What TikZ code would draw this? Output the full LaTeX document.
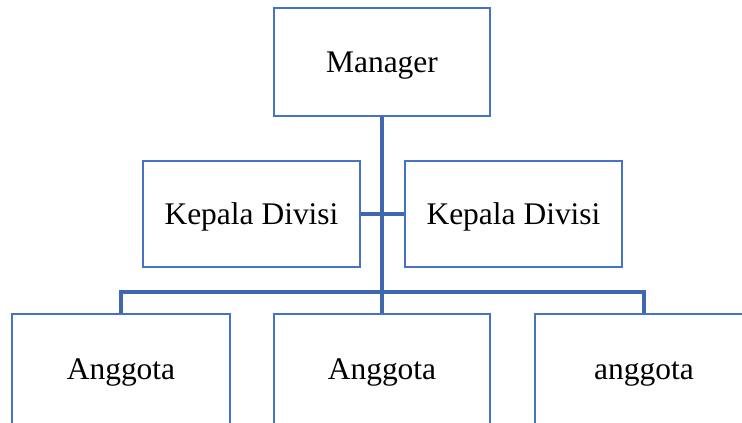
\documentclass[tikz,border=0pt]{standalone}
\usepackage{fontspec}
\setmainfont{Liberation Serif}
\definecolor{boxblue}{HTML}{4472C4}
\definecolor{lineblue}{HTML}{3F66AE}
\begin{document}
\begin{tikzpicture}[x=0.75pt,y=-0.75pt,
  orgbox/.style={draw=boxblue,line width=1.6pt,fill=white,minimum width=216*0.75pt,minimum height=108*0.75pt,inner sep=0pt,
    font=\fontsize{23.6pt}{28pt}\selectfont,text height=15.6pt,text depth=0pt},
  conn/.style={draw=lineblue,line width=2.4pt}]
\useasboundingbox (0,0) rectangle (742,422);
\clip (0,0) rectangle (742,422);
\node[orgbox] (m) at (382,62) {Manager};
\node[orgbox,minimum width=217*0.75pt,minimum height=106*0.75pt] (k1) at (251.5,214) {Kepala Divisi};
\node[orgbox,minimum width=217*0.75pt,minimum height=106*0.75pt] (k2) at (513.5,214) {Kepala Divisi};
\node[orgbox,minimum width=218*0.75pt,minimum height=110*0.75pt] (a1) at (121,369) {Anggota};
\node[orgbox,minimum width=216*0.75pt,minimum height=110*0.75pt] (a2) at (382,369) {Anggota};
\node[orgbox,minimum width=218*0.75pt,minimum height=110*0.75pt] (a3) at (644,369) {anggota};
\coordinate (bus) at (382,292);
\draw[conn] (m.south) -- (a2.north);
\draw[conn] (k1.east) -- (k2.west);
\draw[conn] (a1.north) |- (bus) -| (a3.north);
\end{tikzpicture}
\end{document}
